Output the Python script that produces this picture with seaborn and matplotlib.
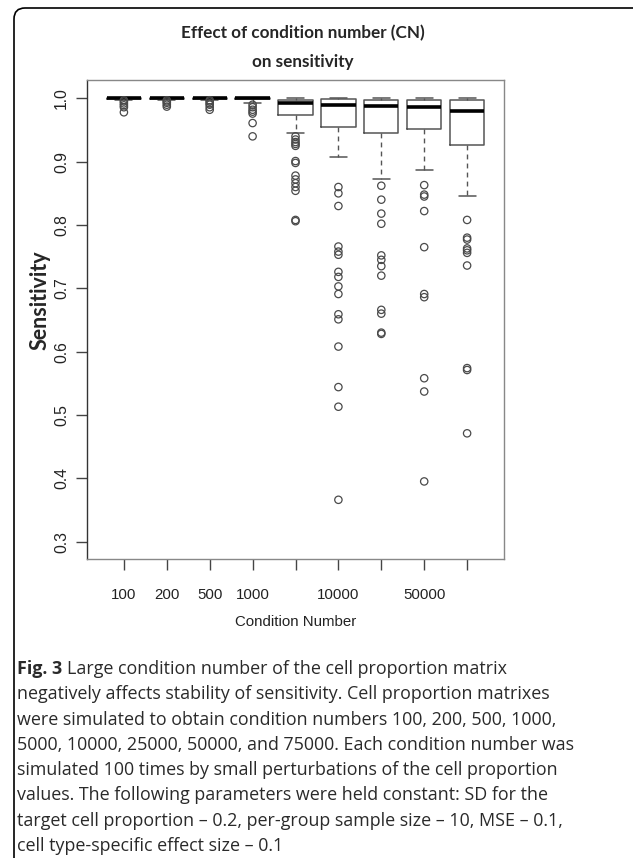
import matplotlib
matplotlib.use("Agg")
import matplotlib.pyplot as plt
from matplotlib.patches import FancyBboxPatch
from matplotlib.transforms import IdentityTransform
import pandas as pd
import seaborn as sns

# ---- data ----
condition_numbers = ["100", "200", "500", "1000", "5000", "10000", "25000", "50000", "75000"]
shown_labels = ["100", "200", "500", "1000", "", "10000", "", "50000", ""]

whisker_low = [0.998, 0.998, 0.998, 0.992, 0.945, 0.907, 0.872, 0.887, 0.846]
quartile_1 = [0.9993, 0.9993, 0.9993, 0.9985, 0.974, 0.954, 0.945, 0.951, 0.926]
medians = [1.0, 1.0, 1.0, 0.9998, 0.992, 0.990, 0.988, 0.987, 0.980]
quartile_3 = [1.0, 1.0, 1.0, 1.0, 0.998, 0.999, 0.997, 0.997, 0.998]
whisker_high = [1.0, 1.0, 1.0, 1.0, 1.0, 1.0, 1.0, 1.0, 1.0]

outliers_100 = [0.997, 0.995, 0.992, 0.989, 0.986, 0.978]
outliers_200 = [0.997, 0.995, 0.993, 0.990, 0.987]
outliers_500 = [0.997, 0.995, 0.992, 0.990, 0.986, 0.982]
outliers_1000 = [0.990, 0.986, 0.982, 0.979, 0.976, 0.961, 0.940]
outliers_5000 = [0.940, 0.935, 0.931, 0.928, 0.925, 0.901, 0.898, 0.878,
                 0.872, 0.866, 0.860, 0.854, 0.808, 0.806]
outliers_10000 = [0.860, 0.850, 0.830, 0.766, 0.758, 0.753, 0.726, 0.718,
                  0.703, 0.691, 0.659, 0.651, 0.608, 0.544, 0.513, 0.366]
outliers_25000 = [0.862, 0.840, 0.818, 0.802, 0.752, 0.745, 0.735, 0.720,
                  0.666, 0.660, 0.630, 0.628]
outliers_50000 = [0.863, 0.848, 0.845, 0.822, 0.765, 0.691, 0.686, 0.558,
                  0.537, 0.395]
outliers_75000 = [0.808, 0.780, 0.777, 0.763, 0.760, 0.756, 0.736, 0.574,
                  0.571, 0.471]

all_outliers = [outliers_100, outliers_200, outliers_500, outliers_1000, outliers_5000,
                outliers_10000, outliers_25000, outliers_50000, outliers_75000]

caption_lines = [
    "Large condition number of the cell proportion matrix",
    "negatively affects stability of sensitivity. Cell proportion matrixes",
    "were simulated to obtain condition numbers 100, 200, 500, 1000,",
    "5000, 10000, 25000, 50000, and 75000. Each condition number was",
    "simulated 100 times by small perturbations of the cell proportion",
    "values. The following parameters were held constant: SD for the",
    "target cell proportion \u2013 0.2, per-group sample size \u2013 10, MSE \u2013 0.1,",
    "cell type-specific effect size \u2013 0.1",
]

# ---- build ----
sns.set_style("white")
W, H = 633, 858
fig = plt.figure(figsize=(W / 100, H / 100), dpi=100)
ax = fig.add_axes([87 / W, 1 - 559 / H, (504 - 87) / W, (559 - 80) / H])

stats = []
for i in range(len(condition_numbers)):
    stats.append(dict(label=condition_numbers[i], whislo=whisker_low[i], q1=quartile_1[i],
                      med=medians[i], q3=quartile_3[i], whishi=whisker_high[i], fliers=[]))

box_col = "#555555"
ax.bxp(stats, positions=range(len(stats)), widths=0.8, showfliers=False,
       boxprops=dict(color=box_col, linewidth=1.1),
       whiskerprops=dict(color=box_col, linewidth=1.0, linestyle=(0, (3.5, 3))),
       capprops=dict(color=box_col, linewidth=1.1),
       medianprops=dict(color="black", linewidth=2.6))

rows = []
for i, vals in enumerate(all_outliers):
    for v in vals:
        rows.append({"pos": i, "sens": v})
df_out = pd.DataFrame(rows)
sns.scatterplot(data=df_out, x="pos", y="sens", ax=ax, marker="o", s=28,
                facecolor="none", edgecolor="#4a4a4a", linewidth=0.9, zorder=3)

ax.set_xlim(-0.86, 8.86)
ax.set_ylim(0.2725, 1.029)
ax.set_xticks(range(len(condition_numbers)))
ax.set_xticklabels(shown_labels, fontsize=10.8, color="#222222", family="Liberation Sans")
yt = [0.3, 0.4, 0.5, 0.6, 0.7, 0.8, 0.9, 1.0]
ax.set_yticks(yt)
ax.set_yticklabels([f"{t:.1f}" for t in yt], rotation=90, va="center",
                   fontsize=11.3, color="#222222", family="Liberation Sans")
ax.tick_params(axis="both", length=8, width=1.0, color="#444444", direction="out",
               left=True, bottom=True)
ax.tick_params(axis="x", pad=13)
ax.tick_params(axis="y", pad=5)
ax.set_xlabel("")
ax.set_ylabel("")
for s in ax.spines.values():
    s.set_color("#888888")
    s.set_linewidth(1.0)
ax.spines["left"].set_color("#333333")

# titles and labels
fig.text(303 / W, 1 - 33 / H, "Effect of condition number (CN)", ha="center", va="center",
         fontsize=12.3, fontweight="bold", family="Lato")
fig.text(303 / W, 1 - 62 / H, "on sensitivity", ha="center", va="center",
         fontsize=12.3, fontweight="bold", family="Lato")
fig.text(40 / W, 1 - 300 / H, "Sensitivity", ha="center", va="center", rotation=90,
         fontsize=15.5, fontweight="bold", family="Lato")
fig.text(296 / W, 1 - 622 / H, "Condition Number", ha="center", va="center",
         fontsize=10.8, color="#222222", family="Liberation Sans")

# caption
cap_font = dict(fontsize=12.9, family="Open Sans", color="#2a2a2a")
line_y = [669 + 25.3 * k for k in range(len(caption_lines))]
fig.canvas.draw()
renderer = fig.canvas.get_renderer()
t0 = fig.text(17 / W, 1 - line_y[0] / H, "Fig. 3", ha="left", va="center",
              fontweight="bold", **cap_font)
bb = t0.get_window_extent(renderer)
fig.text((bb.x1 + 5) / W, 1 - line_y[0] / H, caption_lines[0], ha="left", va="center",
         **cap_font)
for yy, line in zip(line_y[1:], caption_lines[1:]):
    fig.text(17 / W, 1 - yy / H, line, ha="left", va="center", **cap_font)

# outer rounded frame
frame = FancyBboxPatch((14, -30), 640, H - 8 + 30, boxstyle="round,pad=0,rounding_size=11",
                       transform=IdentityTransform(), fill=False, edgecolor="black",
                       linewidth=1.2)
fig.patches.append(frame)

fig.savefig("out.png", dpi=100)
